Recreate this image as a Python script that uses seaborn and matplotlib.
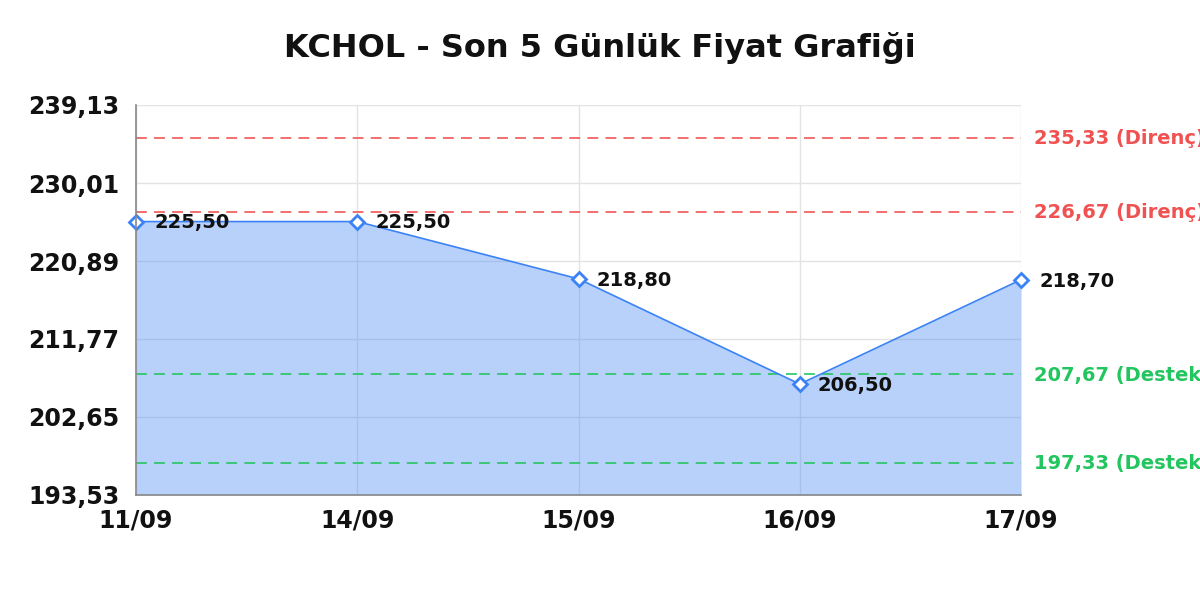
import matplotlib
matplotlib.use("Agg")
import matplotlib.pyplot as plt
import seaborn as sns
import pandas as pd

# data
dates = ["11/09", "14/09", "15/09", "16/09", "17/09"]
prices = [225.50, 225.50, 218.80, 206.50, 218.70]
resistance = [235.33, 226.67]
support = [207.67, 197.33]
y_ticks = [193.53, 202.65, 211.77, 220.89, 230.01, 239.13]

LINE = "#3b82f6"
RED = "#f05252"
GREEN = "#22c55e"


def fmt(v):
    return f"{v:.2f}".replace(".", ",")


sns.set_style("white")
plt.rcParams["font.family"] = ["DejaVu Sans"]

df = pd.DataFrame({"date": dates, "price": prices, "x": range(len(dates))})

fig = plt.figure(figsize=(12, 6), dpi=100)
ax = fig.add_axes([136 / 1200, 1 - 495 / 600, (1021 - 136) / 1200, 390 / 600])

# translucent fill so the grid shows through it
ax.fill_between(df["x"], df["price"], y_ticks[0], color=LINE, alpha=0.36,
                zorder=2, linewidth=0)
sns.lineplot(data=df, x="x", y="price", ax=ax, color=LINE, linewidth=1.2,
             marker="D", markersize=7, markerfacecolor="white",
             markeredgecolor=LINE, markeredgewidth=2, zorder=4, clip_on=False)

for xi, v in zip(df["x"], df["price"]):
    ax.annotate(fmt(v), (xi, v), xytext=(13, -1), textcoords="offset points",
                ha="left", va="center", fontsize=14, fontweight="bold",
                color="#111111", zorder=5, annotation_clip=False)

for lvl in resistance:
    ax.axhline(lvl, color=RED, linestyle=(0, (6, 4)), linewidth=1.3, alpha=0.9, zorder=3)
    ax.annotate(f"{fmt(lvl)} (Direnç)", (1, lvl), xycoords=("axes fraction", "data"),
                xytext=(9, -1), textcoords="offset points", ha="left", va="center",
                fontsize=14, fontweight="bold", color=RED, annotation_clip=False)
for lvl in support:
    ax.axhline(lvl, color=GREEN, linestyle=(0, (6, 4)), linewidth=1.3, alpha=0.9, zorder=3)
    ax.annotate(f"{fmt(lvl)} (Destek)", (1, lvl), xycoords=("axes fraction", "data"),
                xytext=(9, -1), textcoords="offset points", ha="left", va="center",
                fontsize=14, fontweight="bold", color=GREEN, annotation_clip=False)

ax.set_xlim(0, len(dates) - 1)
ax.set_ylim(y_ticks[0], y_ticks[-1])
ax.set_xticks(df["x"])
ax.set_xticklabels(dates, fontsize=17, fontweight="bold")
ax.set_yticks(y_ticks)
ax.set_yticklabels([fmt(t) for t in y_ticks], fontsize=17, fontweight="bold")
ax.tick_params(axis="both", length=0, colors="#111111")
ax.tick_params(axis="y", pad=12)
ax.tick_params(axis="x", pad=10)
ax.set_xlabel("")
ax.set_ylabel("")

ax.grid(True, color="#e3e3e3", linewidth=1, zorder=0)
ax.set_axisbelow(True)
for side in ["top", "right"]:
    ax.spines[side].set_visible(False)
for side in ["left", "bottom"]:
    ax.spines[side].set_color("#888888")
    ax.spines[side].set_linewidth(1.2)
    ax.spines[side].set_zorder(6)

fig.text(600 / 1200, 1 - 48 / 600, "KCHOL - Son 5 Günlük Fiyat Grafiği",
         ha="center", va="center", fontsize=23, fontweight="bold", color="#111111")

fig.savefig("out.png", dpi=100)
